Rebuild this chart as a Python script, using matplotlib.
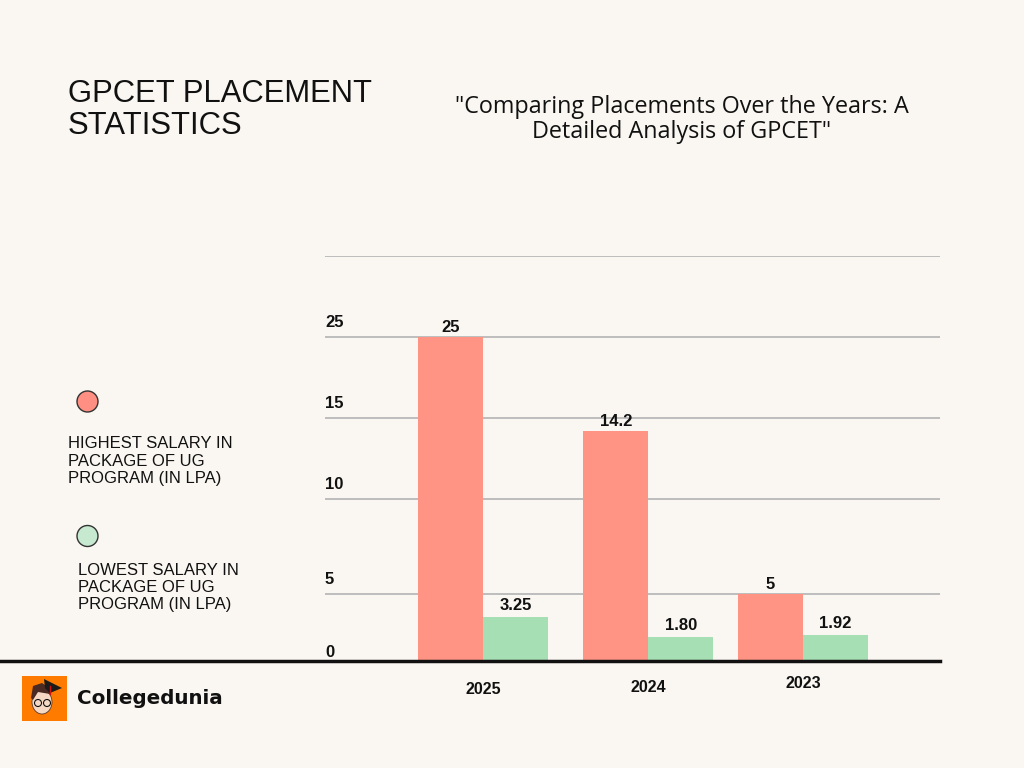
import numpy as np
import matplotlib
matplotlib.use("Agg")
import matplotlib.pyplot as plt
from matplotlib.patches import Ellipse, Rectangle, Polygon
from matplotlib.lines import Line2D
import matplotlib.transforms as mtransforms

# ---------------- data ----------------
years = ["2025", "2024", "2023"]
highest = [25, 14.2, 5]
lowest = [3.25, 1.80, 1.92]
highest_labels = ["25", "14.2", "5"]
lowest_labels = ["3.25", "1.80", "1.92"]
ytick_values = [0, 5, 10, 15, 25]
ytick_labels = ["0", "5", "10", "15", "25"]

# piecewise (non-uniform) value axis used by the original design
scale_vals = [0, 5, 10, 15, 25, 35]
scale_pos = [0, 67, 162, 243, 324, 405]

# layout: group centres (design spacing is slightly uneven)
group_pos = [0.0, 1.034, 2.0]
year_dy = [-15, -14, -11]

BG = "#FAF7F2"
RED = "#FF9485"
GREEN = "#A7DFB4"

W, H = 1024, 768
fig = plt.figure(figsize=(W / 100, H / 100), dpi=100, facecolor=BG)


def fx(px):
    return px / W


def fy(py):
    return 1 - py / H


ax_left, ax_right, ax_top, ax_bottom = 325, 940, 256, 661
ax = fig.add_axes([fx(ax_left), fy(ax_bottom), (ax_right - ax_left) / W, (ax_bottom - ax_top) / H])
ax.set_facecolor("none")

fwd = lambda v: np.interp(v, scale_vals, scale_pos)
inv = lambda p: np.interp(p, scale_pos, scale_vals)
ax.set_yscale("function", functions=(fwd, inv))
ax.set_ylim(0, 35)

x = np.array(group_pos)
bw = 65 / 160
ax.bar(x - bw / 2, highest, width=bw, color=RED, zorder=3)
ax.bar(x + bw / 2, lowest, width=bw, color=GREEN, zorder=3)
ax.set_xlim(-0.9875, 2.85625)

for v in [5, 10, 15, 25, 35]:
    ax.axhline(v, color="#BDBDBD", lw=1.4, zorder=1)

for s in ax.spines.values():
    s.set_visible(False)
ax.set_xticks([])
ax.set_yticks([])

bold = dict(family="Liberation Sans", fontweight="bold", color="#111111")

trans = mtransforms.blended_transform_factory(ax.transAxes, ax.transData)
for v, lab in zip(ytick_values, ytick_labels):
    ax.annotate(lab, (0.0, v), xycoords=trans, xytext=(0, 5 if v else 0.5),
                textcoords="offset points", ha="left", va="bottom",
                fontsize=12, **bold)

for i in range(len(years)):
    ax.annotate(highest_labels[i], (x[i] - bw / 2, highest[i]), xytext=(0, 1.5),
                textcoords="offset points", ha="center", va="bottom",
                fontsize=12, zorder=5, **bold)
    ax.annotate(lowest_labels[i], (x[i] + bw / 2, lowest[i]), xytext=(0, 3),
                textcoords="offset points", ha="center", va="bottom",
                fontsize=12, zorder=5, **bold)
    ax.annotate(years[i], (x[i], 0), xytext=(0, year_dy[i]),
                textcoords="offset points", ha="center", va="top",
                fontsize=11.5, annotation_clip=False, **bold)

fig.add_artist(Line2D([0, fx(940)], [fy(661), fy(661)], color="#111111", lw=2.5,
                      transform=fig.transFigure, zorder=10))

title_font = dict(family="Liberation Sans", color="#111111")
fig.text(fx(68), fy(102.5), "GPCET PLACEMENT", fontsize=22.3, va="baseline", ha="left", **title_font)
fig.text(fx(68), fy(133.5), "STATISTICS", fontsize=22.3, va="baseline", ha="left", **title_font)

sub_font = dict(family="Open Sans", color="#111111", fontsize=16.8, ha="center", va="baseline")
fig.text(fx(682), fy(113), "\"Comparing Placements Over the Years: A", **sub_font)
fig.text(fx(682), fy(138), "Detailed Analysis of GPCET\"", **sub_font)

fig.add_artist(Ellipse((fx(87.5), fy(401.5)), 21 / W, 21 / H, facecolor="#FF8F82",
                       edgecolor="#333333", lw=1, transform=fig.transFigure))
fig.add_artist(Ellipse((fx(87.5), fy(536)), 21 / W, 21 / H, facecolor="#C6E9D0",
                       edgecolor="#333333", lw=1, transform=fig.transFigure))
leg_font = dict(family="Liberation Sans", color="#111111", fontsize=12, va="baseline", ha="left")
for k, line in enumerate(["HIGHEST SALARY IN", "PACKAGE OF UG", "PROGRAM (IN LPA)"]):
    fig.text(fx(68), fy(448.5 + 17 * k), line, **leg_font)
for k, line in enumerate(["LOWEST SALARY IN", "PACKAGE OF UG", "PROGRAM (IN LPA)"]):
    fig.text(fx(77.5), fy(575 + 17 * k), line, **leg_font)

# logo
fig.add_artist(Rectangle((fx(22), fy(721)), 45 / W, 45 / H, facecolor="#FF7B00",
                         edgecolor="none", transform=fig.transFigure))
fig.add_artist(Ellipse((fx(42), fy(702)), 20 / W, 24 / H, facecolor="#F6D9C4",
                       edgecolor="#5a3a2a", lw=0.6, transform=fig.transFigure))
fig.add_artist(Polygon([(fx(31), fy(698)), (fx(33), fy(686)), (fx(42), fy(683)),
                        (fx(52), fy(690)), (fx(50), fy(694)), (fx(38), fy(692)), (fx(33), fy(700))],
                       closed=True, facecolor="#4a2a22", edgecolor="none", transform=fig.transFigure))
fig.add_artist(Polygon([(fx(44), fy(679)), (fx(62), fy(688)), (fx(50), fy(693)), (fx(45), fy(688))],
                       closed=True, facecolor="#1a1a1a", edgecolor="none", transform=fig.transFigure))
fig.add_artist(Line2D([fx(50), fx(50)], [fy(686), fy(694)], color="#d01010", lw=1,
                      transform=fig.transFigure))
fig.add_artist(Ellipse((fx(38), fy(703)), 7 / W, 7 / H, facecolor="none",
                       edgecolor="#111111", lw=0.8, transform=fig.transFigure))
fig.add_artist(Ellipse((fx(47), fy(703)), 7 / W, 7 / H, facecolor="none",
                       edgecolor="#111111", lw=0.8, transform=fig.transFigure))
fig.text(fx(77), fy(698), "Collegedunia", family="DejaVu Sans", fontweight="bold",
         fontsize=14.3, color="#111111", va="center", ha="left")

fig.savefig("out.png", dpi=100, facecolor=BG)
